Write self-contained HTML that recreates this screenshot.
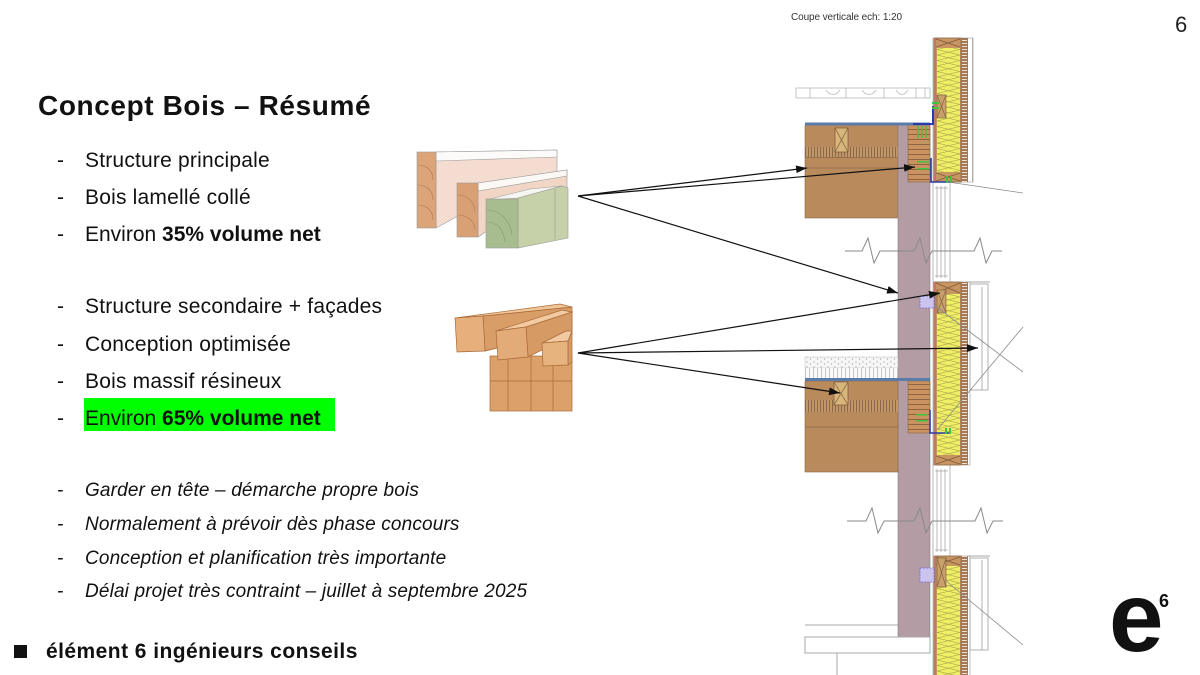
<!DOCTYPE html>
<html><head><meta charset="utf-8">
<style>
html,body{margin:0;padding:0;background:#fff;}
body{width:1200px;height:675px;position:relative;overflow:hidden;font-family:"Liberation Sans",sans-serif;}
svg{position:absolute;left:0;top:0;}
</style></head><body>
<svg width="1200" height="675" viewBox="0 0 1200 675" xmlns="http://www.w3.org/2000/svg">
<defs>
<pattern id="ins" x="937" y="0" width="23" height="11" patternUnits="userSpaceOnUse"><rect width="23" height="11" fill="#eeef66"/><path d="M0 0L23 5.5L0 11M23 0L0 5.5L23 11" stroke="#a89a4a" stroke-width="0.6" fill="none"/></pattern>
<pattern id="clad" x="961" y="0" width="7" height="3" patternUnits="userSpaceOnUse"><rect width="7" height="3" fill="#a27858"/><rect x="1" y="1" width="5" height="1" fill="#eadfcf"/></pattern>
<pattern id="hatch" x="0" y="0" width="3" height="12" patternUnits="userSpaceOnUse"><rect width="3" height="12" fill="#c29666"/><rect x="1" width="1" height="12" fill="#8a6a4a"/></pattern>
<pattern id="vstr" x="0" y="0" width="4" height="10" patternUnits="userSpaceOnUse"><rect width="4" height="10" fill="#fafafa"/><rect x="1" width="0.8" height="10" fill="#b8b8b8"/></pattern>
<pattern id="dots" x="0" y="0" width="7" height="5" patternUnits="userSpaceOnUse"><rect width="7" height="5" fill="#f6f6f6"/><circle cx="2" cy="2" r="0.6" fill="#999"/><circle cx="5.5" cy="4" r="0.6" fill="#999"/></pattern>
<pattern id="lines5" x="908" y="0" width="22" height="5" patternUnits="userSpaceOnUse"><rect width="22" height="5" fill="#c99260"/><rect y="4" width="22" height="1" fill="#8e6440"/></pattern>
<marker id="ah" viewBox="0 0 10 10" refX="10" refY="5" markerWidth="11" markerHeight="11" orient="auto" markerUnits="userSpaceOnUse"><path d="M0 1.5L10 5L0 8.5z" fill="#111"/></marker>
</defs>

<!-- top railing -->
<g stroke="#c4c4c4" stroke-width="1" fill="none">
<rect x="796" y="88" width="134" height="10"/>
<path d="M810 88V98M826 90C830 96 836 96 840 90M846 88V98M862 90C866 96 872 96 876 90M884 88V98M896 90C900 96 904 96 908 90M916 88V98M925 88V98"/>
</g>

<!-- top slab -->
<rect x="805" y="125" width="93" height="93" fill="#b88a5c" stroke="#8a6a4a" stroke-width="0.6"/>
<rect x="805" y="147" width="93" height="10" fill="url(#hatch)"/>
<path d="M805 157.5H898M805 168H898" stroke="#8a6a4a" stroke-width="0.8"/>
<rect x="835" y="128" width="13" height="24" fill="#d8b57a" stroke="#7a5a3a" stroke-width="0.7"/>
<path d="M835 128L848 152M848 128L835 152" stroke="#7a5a3a" stroke-width="0.7"/>

<!-- column -->
<rect x="898" y="125" width="32" height="512" fill="#b39ca3" stroke="#8a7a80" stroke-width="0.6"/>
<rect x="908" y="125" width="22" height="57" fill="url(#lines5)" stroke="#7a5a3a" stroke-width="0.5"/>
<rect x="805" y="122.5" width="125" height="3" fill="#5b7ba8"/>

<!-- lower slab -->
<rect x="805" y="357" width="93" height="11" fill="url(#dots)" stroke="#bbb" stroke-width="0.5"/>
<rect x="805" y="368" width="93" height="10" fill="url(#vstr)"/>
<rect x="805" y="381" width="93" height="91" fill="#b88a5c" stroke="#8a6a4a" stroke-width="0.6"/>
<rect x="805" y="400" width="93" height="12" fill="url(#hatch)"/>
<path d="M805 427H898" stroke="#8a6a4a" stroke-width="0.8"/>
<rect x="834" y="382" width="14" height="23" fill="#d8b57a" stroke="#7a5a3a" stroke-width="0.7"/>
<path d="M834 382L848 405M848 382L834 405" stroke="#7a5a3a" stroke-width="0.7"/>
<rect x="908" y="381" width="22" height="52" fill="url(#lines5)" stroke="#7a5a3a" stroke-width="0.5"/>
<rect x="805" y="378" width="125" height="3" fill="#5b7ba8"/>

<!-- windows -->
<g stroke="#a8a8a8" stroke-width="0.8" fill="#fff">
<rect x="933" y="182" width="17" height="100"/>
<rect x="933" y="465" width="17" height="91"/>
<path d="M937 186V278M941 186V278M945 186V278M935 188H948M935 276H948M937 469V552M941 469V552M945 469V552M935 471H948M935 550H948" fill="none"/>
</g>

<!-- panels -->
<g>
<rect x="933" y="38" width="40" height="144" fill="#fff" stroke="#b0b0b0" stroke-width="0.8"/>
<rect x="933" y="38" width="2" height="144" fill="#d98888"/>
<rect x="935" y="38" width="26" height="144" fill="#c89462" stroke="#7a5a3a" stroke-width="0.6"/>
<rect x="937" y="48" width="23" height="124" fill="url(#ins)"/>
<path d="M936 39L960 47M960 39L936 47M936 173L960 181M960 173L936 181" stroke="#7a5a3a" stroke-width="0.7"/>
<rect x="961" y="38" width="7" height="144" fill="url(#clad)"/>
<rect x="937" y="95" width="9" height="23" fill="#c8a06a" stroke="#7a5a3a" stroke-width="0.6"/>
<path d="M937 95L946 118M946 95L937 118" stroke="#7a5a3a" stroke-width="0.6"/>
</g>
<g>
<rect x="933" y="282" width="37" height="183" fill="#fff" stroke="#b0b0b0" stroke-width="0.8"/>
<rect x="933" y="282" width="2" height="183" fill="#d98888"/>
<rect x="935" y="282" width="26" height="183" fill="#c89462" stroke="#7a5a3a" stroke-width="0.6"/>
<rect x="937" y="294" width="23" height="161" fill="url(#ins)"/>
<path d="M936 283L960 293M960 283L936 293M936 456L960 464M960 456L936 464" stroke="#7a5a3a" stroke-width="0.7"/>
<rect x="961" y="282" width="7" height="183" fill="url(#clad)"/>
<rect x="937" y="290" width="9" height="23" fill="#c8a06a" stroke="#7a5a3a" stroke-width="0.6"/>
<path d="M937 290L946 313M946 290L937 313" stroke="#7a5a3a" stroke-width="0.6"/>
</g>
<g>
<rect x="933" y="556" width="37" height="125" fill="#fff" stroke="#b0b0b0" stroke-width="0.8"/>
<rect x="933" y="556" width="2" height="125" fill="#d98888"/>
<rect x="935" y="556" width="26" height="125" fill="#c89462" stroke="#7a5a3a" stroke-width="0.6"/>
<rect x="937" y="566" width="23" height="115" fill="url(#ins)"/>
<path d="M936 557L960 565M960 557L936 565" stroke="#7a5a3a" stroke-width="0.7"/>
<rect x="961" y="556" width="7" height="125" fill="url(#clad)"/>
<rect x="937" y="558" width="9" height="29" fill="#c8a06a" stroke="#7a5a3a" stroke-width="0.6"/>
<path d="M937 558L946 587M946 558L937 587" stroke="#7a5a3a" stroke-width="0.6"/>
</g>

<!-- purple boxes -->
<rect x="920" y="296" width="14" height="12" fill="#cbc4ef" stroke="#7a6ad0" stroke-width="0.8" stroke-dasharray="2 1"/>
<rect x="920" y="568" width="14" height="14" fill="#cbc4ef" stroke="#7a6ad0" stroke-width="0.8" stroke-dasharray="2 1"/>

<!-- blue & green details -->
<g fill="none" stroke="#2a3aa8">
<path d="M913 124H933V106" stroke-width="2"/>
<path d="M931 158V182H950" stroke-width="1.6"/>
<path d="M930 410V433H950" stroke-width="1.6"/>
</g>
<g fill="#3ec43e">
<rect x="932" y="102" width="7" height="2"/><rect x="932" y="107" width="7" height="2"/>
<rect x="917" y="126" width="1.5" height="12"/><rect x="921" y="126" width="1.5" height="12"/><rect x="925" y="126" width="1.5" height="12"/>
<rect x="917" y="161" width="12" height="1.5"/><rect x="917" y="168" width="12" height="1.5"/>
<rect x="946" y="176" width="2" height="7"/><rect x="950" y="176" width="2" height="7"/>
<rect x="916" y="414" width="12" height="1.5"/><rect x="916" y="420" width="12" height="1.5"/>
<rect x="945" y="428" width="2" height="6"/><rect x="949" y="428" width="2" height="6"/>
</g>

<!-- right frames -->
<g stroke="#a8a8a8" stroke-width="0.9" fill="none">
<rect x="970" y="284" width="18" height="106"/>
<path d="M968 282H990M982 287V390"/>
<rect x="970" y="558" width="18" height="92"/>
<path d="M968 556H990M982 560V650"/>
<path d="M972.5 38V182"/>
</g>

<!-- break lines -->
<g stroke="#8a8a8a" stroke-width="1" fill="none">
<path d="M845 251H862L868 238L874 263L880 251H914L920 238L926 263L932 251H974L980 238L986 263L992 251H1002"/>
<path d="M847 521H866L872 508L878 533L884 521H914L920 508L926 533L932 521H975L981 508L987 533L993 521H1003"/>
</g>

<!-- diagonal gray lines -->
<g stroke="#8a8a8a" stroke-width="0.8">
<line x1="948" y1="182" x2="1023" y2="193"/>
<line x1="934" y1="305" x2="1023" y2="372"/>
<line x1="937" y1="430" x2="1023" y2="327"/>
<line x1="945" y1="580" x2="1023" y2="645"/>
</g>

<!-- bottom slab outlines -->
<g stroke="#a8a8a8" stroke-width="1" fill="none">
<path d="M805 625H898"/>
<rect x="805" y="637" width="125" height="16"/>
<path d="M837 653V675"/>
</g>

<!-- glulam image -->
<g stroke="#9a9a9a" stroke-width="0.6">
<polygon points="436,152 557,150 557,185 478,205 436,228" fill="#f4ddd0"/>
<polygon points="436,152 557,150 557,157 436,161" fill="#fdfbf9"/>
<rect x="417" y="152" width="19" height="76" fill="#dba479"/>
<polygon points="478,183 567,170 567,200 518,210 478,237" fill="#f1d6c6"/>
<polygon points="478,183 567,170 567,176 478,191" fill="#fbf8f6"/>
<rect x="457" y="183" width="21" height="54" fill="#d9a073"/>
<polygon points="486,200 518,198 562,186 530,189" fill="#f6f6f0"/>
<polygon points="518,198 562,186 568,188 568,238 518,248" fill="#c6d1a9"/>
<rect x="486" y="199" width="32" height="49" fill="#a8bd8f"/>
<line x1="555" y1="189" x2="555" y2="240"/>
</g>
<g stroke="#b07a52" stroke-width="0.6" fill="none">
<path d="M418 165C428 165 433 172 433 180M418 185C428 185 433 192 433 200M418 205C428 205 433 212 433 220"/>
<path d="M458 195C468 195 475 203 475 212M458 215C468 215 475 222 475 230"/>
</g>
<g stroke="#7f9a70" stroke-width="0.6" fill="none">
<path d="M487 210C500 210 510 220 512 235M487 222C497 222 504 230 505 242"/>
</g>

<!-- solid wood image -->
<g stroke="#a86a38" stroke-width="0.7">
<rect x="490" y="356" width="82" height="55" fill="#dca06a"/>
<path d="M508 356V411M531 356V411M553 356V411M490 381H572" fill="none"/>
<polygon points="483,316 572,307 572,330 485,351" fill="#d99d68"/>
<polygon points="455,318 560,304 572,307 483,316" fill="#f0c598"/>
<polygon points="455,318 483,316 485,351 457,352" fill="#e6b07c"/>
<polygon points="526,327 572,312 572,335 528,357" fill="#d69a64"/>
<polygon points="496,331 562,310 572,312 526,327" fill="#f2c9a0"/>
<polygon points="496,331 526,327 528,357 498,360" fill="#e3ab78"/>
<polygon points="568,341 572,331 572,362 568,365" fill="#d69a64"/>
<polygon points="542,343 566,331 572,331 568,341" fill="#f2c9a0"/>
<polygon points="542,343 568,341 568,365 543,366" fill="#e6b27e"/>
</g>

<!-- arrows -->
<g stroke="#111" stroke-width="1.2" fill="none" marker-end="url(#ah)">
<line x1="578" y1="196" x2="807" y2="168"/>
<line x1="578" y1="196" x2="915" y2="167"/>
<line x1="578" y1="196" x2="898" y2="293"/>
<line x1="578" y1="353" x2="940" y2="293"/>
<line x1="578" y1="353" x2="978" y2="348"/>
<line x1="578" y1="353" x2="840" y2="393"/>
</g>

<!-- texts -->
<text x="791" y="20" font-family="Liberation Sans, sans-serif" font-size="10" fill="#333" letter-spacing="-0.1">Coupe verticale ech: 1:20</text>
<text x="1175" y="32" font-family="Liberation Sans, sans-serif" font-size="22" fill="#222">6</text>

<g font-family="Liberation Sans, sans-serif" fill="#111">
<text x="38" y="115" font-size="28" font-weight="bold" letter-spacing="0.6">Concept Bois – Résumé</text>
<rect x="84" y="398" width="251" height="33" fill="#00ff00" stroke="none"/>
<g font-size="21">
<text x="57" y="167">-</text><text x="85" y="167" letter-spacing="0.2">Structure principale</text>
<text x="57" y="204">-</text><text x="85" y="204" letter-spacing="0.2">Bois lamellé collé</text>
<text x="57" y="241">-</text><text x="85" y="241">Environ <tspan font-weight="bold">35% volume net</tspan></text>
<text x="57" y="313">-</text><text x="85" y="313" letter-spacing="0.2">Structure secondaire + façades</text>
<text x="57" y="351">-</text><text x="85" y="351" letter-spacing="0.2">Conception optimisée</text>
<text x="57" y="388">-</text><text x="85" y="388" letter-spacing="0.2">Bois massif résineux</text>
<text x="57" y="425">-</text><text x="85" y="425">Environ <tspan font-weight="bold">65% volume net</tspan></text>
</g>
<g font-size="19" font-style="italic">
<text x="57" y="496">-</text><text x="85" y="496" letter-spacing="0.15">Garder en tête – démarche propre bois</text>
<text x="57" y="530">-</text><text x="85" y="530" letter-spacing="0.15">Normalement à prévoir dès phase concours</text>
<text x="57" y="564">-</text><text x="85" y="564" letter-spacing="0.15">Conception et planification très importante</text>
<text x="57" y="597">-</text><text x="85" y="597" letter-spacing="0.15">Délai projet très contraint – juillet à septembre 2025</text>
</g>
<rect x="14" y="645" width="13" height="13" fill="#111"/>
<text x="46" y="658" font-size="21" font-weight="bold" letter-spacing="0.45">élément 6 ingénieurs conseils</text>
<text x="1109" y="651" font-size="98" font-weight="bold">e</text>
<text x="1159" y="607" font-size="18" font-weight="bold">6</text>
</g>
</svg>
</body></html>
